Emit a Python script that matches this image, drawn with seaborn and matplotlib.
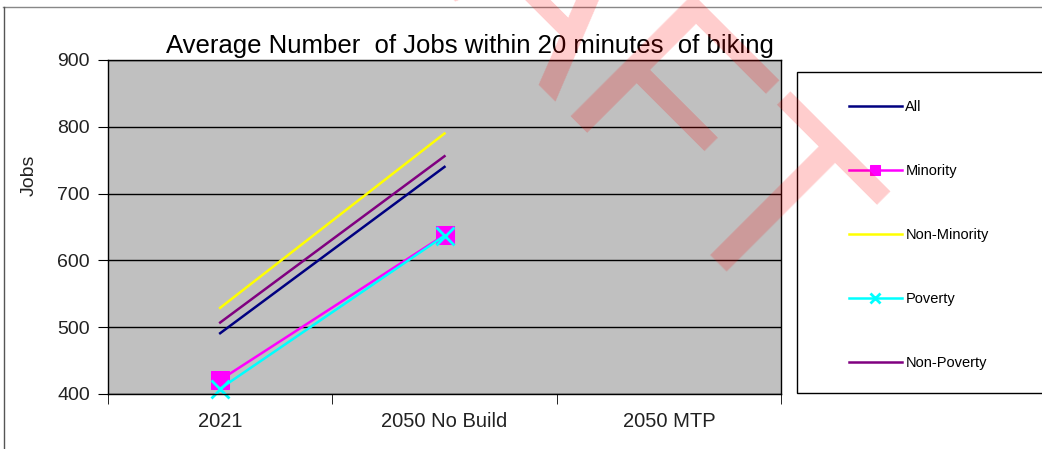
import numpy as np
import pandas as pd
import matplotlib
matplotlib.use("Agg")
import matplotlib.pyplot as plt
from matplotlib.patches import Rectangle
from matplotlib.lines import Line2D
import seaborn as sns

plt.rcParams['font.family'] = ['Liberation Sans', 'DejaVu Sans']

# data
categories = ["2021", "2050 No Build", "2050 MTP"]
all_jobs = [491, 740, np.nan]
minority = [421, 638, np.nan]
non_minority = [529, 790, np.nan]
poverty = [408, 637, np.nan]
non_poverty = [507, 756, np.nan]

series = {
    "All": all_jobs,
    "Minority": minority,
    "Non-Minority": non_minority,
    "Poverty": poverty,
    "Non-Poverty": non_poverty,
}
colors = {"All": "#000080", "Minority": "#FF00FF", "Non-Minority": "#FFFF00",
          "Poverty": "#00FFFF", "Non-Poverty": "#800080"}
markers = {"Minority": "s", "Poverty": "x"}

rows = []
for name, vals in series.items():
    for i, v in enumerate(vals):
        rows.append({"pos": i, "jobs": v, "group": name})
df = pd.DataFrame(rows).dropna()

W, H = 1042, 449
fig = plt.figure(figsize=(W / 100, H / 100), dpi=100)
ax = fig.add_axes([108 / W, 1 - 394 / H, (781 - 108) / W, (394 - 60) / H])
ax.set_facecolor("#C0C0C0")

for name in series:
    sub = df[df["group"] == name]
    mk = markers.get(name)
    kw = {}
    if mk == "s":
        kw = dict(marker="s", markersize=13, markeredgecolor=colors[name])
    elif mk == "x":
        kw = dict(marker="x", markersize=13, markeredgewidth=2,
                  markeredgecolor=colors[name], clip_on=False)
    sns.lineplot(data=sub, x="pos", y="jobs", color=colors[name], lw=1.8,
                 label=name, ax=ax, legend=False, **kw)

ax.set_xlim(-0.5, 2.5)
ax.set_ylim(400, 900)
ax.set_xticks([0, 1, 2])
ax.set_xticklabels(categories, fontsize=14.5, color="#222222")
ax.set_xticks([-0.5, 0.5, 1.5, 2.5], minor=True)
ax.tick_params(axis="x", which="major", length=0, pad=13)
ax.tick_params(axis="x", which="minor", length=7, direction="out", color="black")
ax.set_yticks(range(400, 901, 100))
ax.tick_params(axis="y", length=7, direction="out", labelsize=14,
               labelcolor="#222222", pad=6)
ax.yaxis.grid(True, color="black", lw=1)
ax.set_axisbelow(True)
for sp in ax.spines.values():
    sp.set_color("black")
    sp.set_linewidth(1)
ax.set_xlabel("")
ax.set_ylabel("Jobs", fontsize=14, color="#222222")
ax.yaxis.set_label_coords(-0.104, 0.656)

fig.text(470 / W, 1 - 46 / H, "Average Number  of Jobs within 20 minutes  of biking",
         ha="center", va="center", fontsize=18.5, color="black")

# outer chart frame
fig.add_artist(Line2D([3 / W, 1], [1 - 7 / H, 1 - 7 / H], transform=fig.transFigure,
                      color="#888888", lw=1))
fig.add_artist(Line2D([4 / W, 4 / W], [0, 1 - 7 / H], transform=fig.transFigure,
                      color="#555555", lw=1))

# legend box
fig.add_artist(Rectangle((797 / W, 1 - 393 / H), (1060 - 797) / W, (393 - 72) / H,
                         transform=fig.transFigure, facecolor="white",
                         edgecolor="black", lw=1, zorder=1))
handles, labels = ax.get_legend_handles_labels()
leg = fig.legend(handles, labels, loc="upper left", bbox_to_anchor=(836 / W, 1 - 87 / H),
                 frameon=False, fontsize=10.5, handlelength=3.6, handletextpad=0.25,
                 labelspacing=3.42, markerscale=0.6)
leg.set_zorder(2)

# watermark
fig.text(766 / W, 1 - 332 / H, "DRAFT", rotation=-45, rotation_mode="anchor",
         ha="right", va="baseline", fontsize=180, color="red", alpha=0.2, zorder=10)

fig.savefig("out.png", dpi=100)
